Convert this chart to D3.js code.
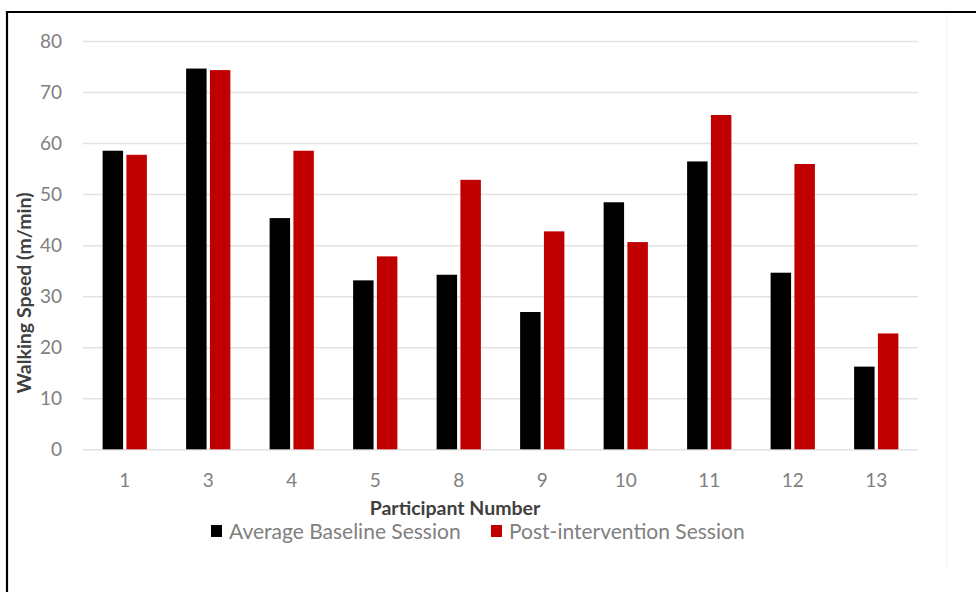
<!DOCTYPE html>
<html><head><meta charset="utf-8">
<script src="https://cdn.jsdelivr.net/npm/d3@7/dist/d3.min.js"></script>
<style>body{margin:0;background:#fff}svg{display:block}</style>
</head><body><svg id="c" width="976" height="592"></svg>
<script>
const categories = ["1","3","4","5","8","9","10","11","12","13"];
const baseline = [58.5, 74.6, 45.3, 33.1, 34.2, 26.9, 48.4, 56.4, 34.6, 16.2];
const post = [57.7, 74.3, 58.5, 37.8, 52.8, 42.7, 40.6, 65.5, 55.9, 22.7];
const seriesNames = ["Average Baseline Session", "Post-intervention Session"];
const seriesColors = ["#000000", "#c00000"];
const yTicks = [0,10,20,30,40,50,60,70,80];

const svg = d3.select("#c");
const font = "Lato, 'Open Sans', sans-serif";
const L = 83, R = 918, T = 41, B = 449.3;

// border
svg.append("line").attr("x1",7).attr("x2",7).attr("y1",11).attr("y2",592).attr("stroke","#000").attr("stroke-width",2.2);
svg.append("line").attr("x1",6).attr("x2",976).attr("y1",12).attr("y2",12).attr("stroke","#000").attr("stroke-width",2.2);
svg.append("line").attr("x1",946.5).attr("x2",946.5).attr("y1",13).attr("y2",568).attr("stroke","#f5f5f5").attr("stroke-width",1);

const x0 = d3.scaleBand().domain(categories).range([L,R]).paddingInner(0.47).paddingOuter(0.235);
const x1 = d3.scaleBand().domain([0,1]).range([0,x0.bandwidth()]).paddingInner(0.14);
const y = d3.scaleLinear().domain([0,80]).range([B,T]);

// gridlines
const yAxis = d3.axisLeft(y).tickValues(yTicks).tickSize(-(R-L)).tickPadding(20);
const gy = svg.append("g").attr("transform",`translate(${L},0)`).call(yAxis);
gy.select(".domain").remove();
gy.selectAll(".tick line").attr("stroke","#e2e2e2").attr("stroke-width",1.5);
gy.selectAll(".tick text").attr("fill","#808080").style("font-family",font).style("font-size","19px").attr("x",-21);

// bars
const data = [baseline, post];
categories.forEach((c,i)=>{
  data.forEach((s,k)=>{
    svg.append("rect")
      .attr("x", x0(c)+x1(k))
      .attr("width", x1.bandwidth())
      .attr("y", y(s[i]))
      .attr("height", y(0)-y(s[i]))
      .attr("fill", seriesColors[k]);
  });
});

// x axis
const xAxis = d3.axisBottom(x0).tickSize(0).tickPadding(24);
const gx = svg.append("g").attr("transform",`translate(0,${B})`).call(xAxis);
gx.select(".domain").remove();
gx.selectAll(".tick text").attr("fill","#808080").style("font-family",font).style("font-size","19px");

// axis titles
svg.append("text").attr("x",455).attr("y",515).attr("text-anchor","middle")
  .attr("fill","#404040").style("font-family",font).style("font-weight","bold").style("font-size","19.5px")
  .text("Participant Number");
svg.append("text").attr("transform","translate(31,293) rotate(-90)").attr("text-anchor","middle")
  .attr("fill","#404040").style("font-family",font).style("font-weight","bold").style("font-size","19.5px")
  .text("Walking Speed (m/min)");

// legend
const legX = [211, 491];
seriesNames.forEach((n,k)=>{
  svg.append("rect").attr("x",legX[k]).attr("y",525).attr("width",11).attr("height",12).attr("fill",seriesColors[k]);
  svg.append("text").attr("x",legX[k]+18).attr("y",538.5).attr("fill","#808080")
    .style("font-family",font).style("font-size","21px").text(n);
});
</script></body></html>
